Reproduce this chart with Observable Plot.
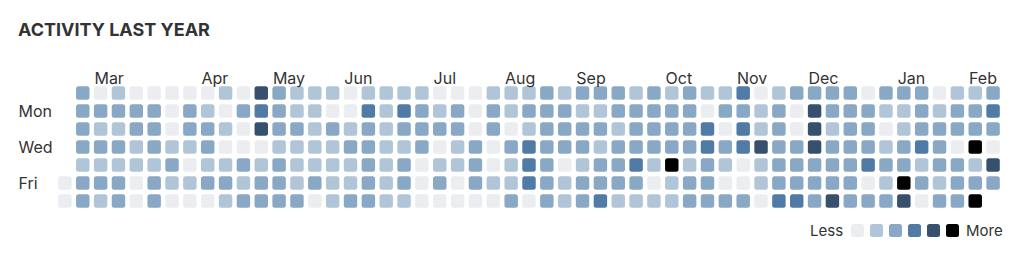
<!DOCTYPE html>
<html><head><meta charset="utf-8">
<script src="https://cdn.jsdelivr.net/npm/d3@7"></script>
<script src="https://cdn.jsdelivr.net/npm/@observablehq/plot@0.6"></script>
<style>
body{margin:0;background:#fff;font-family:Inter,"Noto Sans",sans-serif;color:#333;}
#wrap{position:relative;width:1024px;height:268px;overflow:hidden;}
#title{position:absolute;left:18px;top:20.5px;font-size:18px;line-height:18px;font-weight:700;color:#333;white-space:nowrap;}
#chart{position:absolute;left:0;top:50px;}
#legend{position:absolute;left:810px;top:221px;height:18px;display:flex;align-items:center;font-size:15px;color:#333;}
#legend .box{width:13px;height:13px;border-radius:2.5px;margin-right:6px;}
</style>
</head><body>
<div id="wrap">
  <div id="title">ACTIVITY LAST YEAR</div>
  <div id="chart"></div>
  <div id="legend"></div>
</div>
<script>
// Activity level per weekday (0 = none … 5 = most), one entry per week column; null = no day
const sun = [null, 2,0,1,0,0,0,0,0, 1,0,4,2,1,1,1,0,1, 1,1,1,0,0,0,1,1, 1,2,1,2,2,2,1,2,1, 2,1,1,3,0,1,2,2, 2,2,0,2,2,2,0,1,1,2];
const mon = [null, 2,2,2,2,2,0,2,1, 0,2,3,2,1,1,0,0,3, 1,3,2,1,2,0,2,1, 2,2,2,1,1,2,2,2,2, 2,0,2,2,1,2,0,4, 2,2,2,1,1,2,1,2,2,3];
const tue = [null, 2,1,1,2,2,0,2,2, 1,0,4,2,2,1,2,1,2, 1,2,2,2,2,0,2,0, 1,2,2,2,2,1,2,2,2, 2,3,0,3,1,2,0,4, 1,2,2,0,1,2,2,2,2,2];
const wed = [null, 2,2,2,1,2,1,1,2, 0,0,0,1,1,1,1,2,2, 1,1,2,0,1,2,0,2, 3,2,2,2,1,2,2,2,2, 2,3,2,3,4,2,2,4, 2,2,2,1,2,3,2,0,5,0];
const thu = [null, 1,1,1,1,1,2,0,1, 1,2,1,2,1,1,1,1,2, 1,2,0,1,1,2,0,1, 3,2,0,1,2,2,3,1,5, 1,2,1,0,1,2,2,2, 2,2,3,2,2,1,2,2,1,4];
const fri = [0, 2,2,2,0,2,1,1,2, 2,1,2,2,1,2,1,1,2, 1,2,0,2,0,2,1,1, 3,2,1,2,2,2,2,0,1, 2,2,0,0,1,2,2,2, 2,2,0,1,5,2,1,2,2,2];
const sat = [0, 2,1,2,0,2,0,0,0, 1,2,2,2,2,0,1,2,2, 1,1,0,0,0,0,0,2, 0,2,1,2,3,1,1,1,1, 2,2,2,2,0,3,3,2, 4,2,2,2,4,0,2,2,5,null];

const monthNames = ["Mar","Apr","May","Jun","Jul","Aug","Sep","Oct","Nov","Dec","Jan","Feb"];
const monthWeeks = [2,8,12,16,21,25,29,34,38,42,47,51];
const dayLabels = ["Mon","Wed","Fri"];
const dayLabelRows = [1,3,5];
const levels = [0,1,2,3,4,5];
const colors = ["#ebedf0","#b1c5d9","#89a8c5","#4f7ba6","#36506e","#000000"];

const rows = [sun, mon, tue, wed, thu, fri, sat];
const cells = [];
rows.forEach((arr, day) => arr.forEach((v, week) => { if (v !== null) cells.push({week, day, level: v}); }));
const months = monthNames.map((name, i) => ({name, week: monthWeeks[i]}));
const days = dayLabels.map((label, i) => ({label, day: dayLabelRows[i]}));

const chart = Plot.plot({
  width: 1024,
  height: 170,
  marginTop: 34,
  marginBottom: 10,
  marginLeft: 56,
  marginRight: 22,
  style: {fontFamily: "Inter, 'Noto Sans', sans-serif", color: "#333", background: "transparent"},
  x: {type: "band", domain: d3.range(53), padding: 0, axis: null},
  y: {type: "band", domain: d3.range(7), padding: 0, axis: null},
  color: {type: "ordinal", domain: levels, range: colors},
  marks: [
    Plot.cell(cells, {x: "week", y: "day", fill: "level", inset: 2.2, rx: 2.5}),
    Plot.text(months, {x: "week", text: "name", frameAnchor: "top", dy: -12, dx: -6.7, textAnchor: "start", fontSize: 16, fill: "#333"}),
    Plot.text(days, {y: "day", text: "label", frameAnchor: "left", dx: -38, textAnchor: "start", fontSize: 16, fill: "#333"})
  ]
});
document.getElementById("chart").appendChild(chart);

const legend = document.getElementById("legend");
const less = document.createElement("span");
less.textContent = "Less"; less.style.marginRight = "8px";
legend.appendChild(less);
levels.forEach(l => {
  const b = document.createElement("div");
  b.className = "box"; b.style.background = colors[l];
  legend.appendChild(b);
});
const more = document.createElement("span");
more.textContent = "More"; more.style.marginLeft = "1px";
legend.appendChild(more);
</script>
</body></html>
